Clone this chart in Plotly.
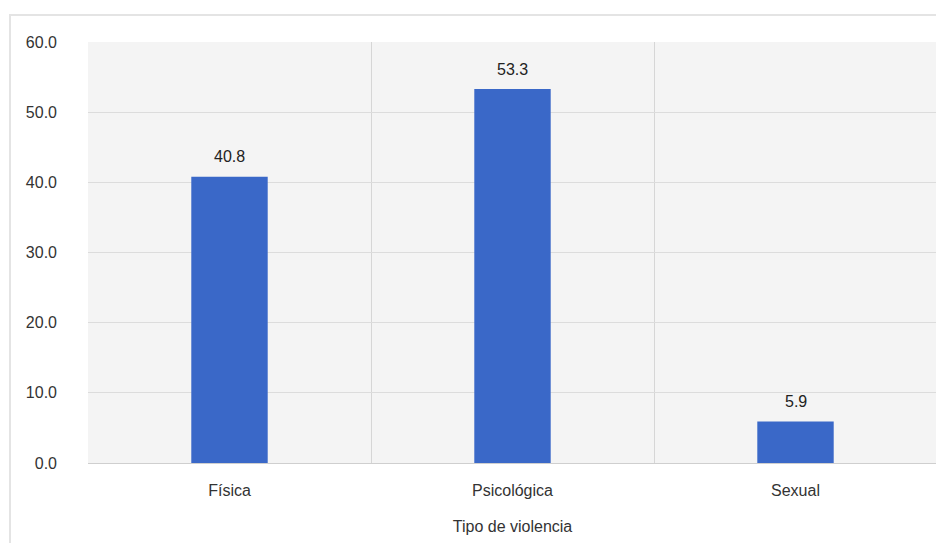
import plotly.graph_objects as go

categories = ["Física", "Psicológica", "Sexual"]
values = [40.8, 53.3, 5.9]
y_ticks = [0, 10, 20, 30, 40, 50, 60]
y_tick_labels = ["0.0", "10.0", "20.0", "30.0", "40.0", "50.0", "60.0"]
x_title = "Tipo de violencia"

fig = go.Figure()
fig.add_trace(go.Bar(
    x=categories, y=values,
    marker=dict(color="#3a68c8", line=dict(width=0)),
    width=0.27,
))

for c, v in zip(categories, values):
    fig.add_annotation(x=c, y=v, text=f"{v:.1f}", showarrow=False,
                       yanchor="middle", yshift=20,
                       font=dict(size=16, color="#222222"))

# page body has an 8px margin, so the figure is drawn offset by (8, 8)
OFF = 8
W, H = 944 - OFF, 543 - OFF
ml, mr, mt, mb = 88 - OFF, 7, 42 - OFF, 80
pw, ph = W - ml - mr, H - mt - mb

def px_x(p):
    return (p - OFF - ml) / pw

def px_y(p):
    return (H - mb - (p - OFF)) / ph

fig.add_shape(type="rect", xref="paper", yref="paper",
              x0=px_x(10), x1=px_x(960), y0=px_y(15), y1=px_y(560),
              line=dict(color="#e4e4e4", width=2), fillcolor="rgba(0,0,0,0)",
              layer="below")

fig.update_layout(
    width=W, height=H,
    margin=dict(l=ml, r=mr, t=mt, b=mb),
    paper_bgcolor="white",
    plot_bgcolor="#f4f4f4",
    font=dict(family="Liberation Sans, Arial, sans-serif", size=16, color="#333333"),
    showlegend=False,
    xaxis=dict(
        type="category",
        range=[-0.5, 2.5],
        tickson="boundaries",
        showgrid=True, gridcolor="#d6d6d6", gridwidth=1,
        ticks="", ticklen=0,
        ticklabelstandoff=16,
        tickfont=dict(size=16, color="#333333"),
        title=dict(text=x_title, font=dict(size=16, color="#333333"), standoff=22),
        showline=False, zeroline=False,
    ),
    yaxis=dict(
        range=[0, 60],
        tickvals=y_ticks, ticktext=y_tick_labels,
        showgrid=True, gridcolor="#dcdcdc", gridwidth=1,
        zeroline=True, zerolinecolor="#cfcfcf", zerolinewidth=1,
        tickfont=dict(size=16, color="#333333"),
        ticks="", ticklabelstandoff=30,
        showline=False,
    ),
)

fig.write_html("out.html")
